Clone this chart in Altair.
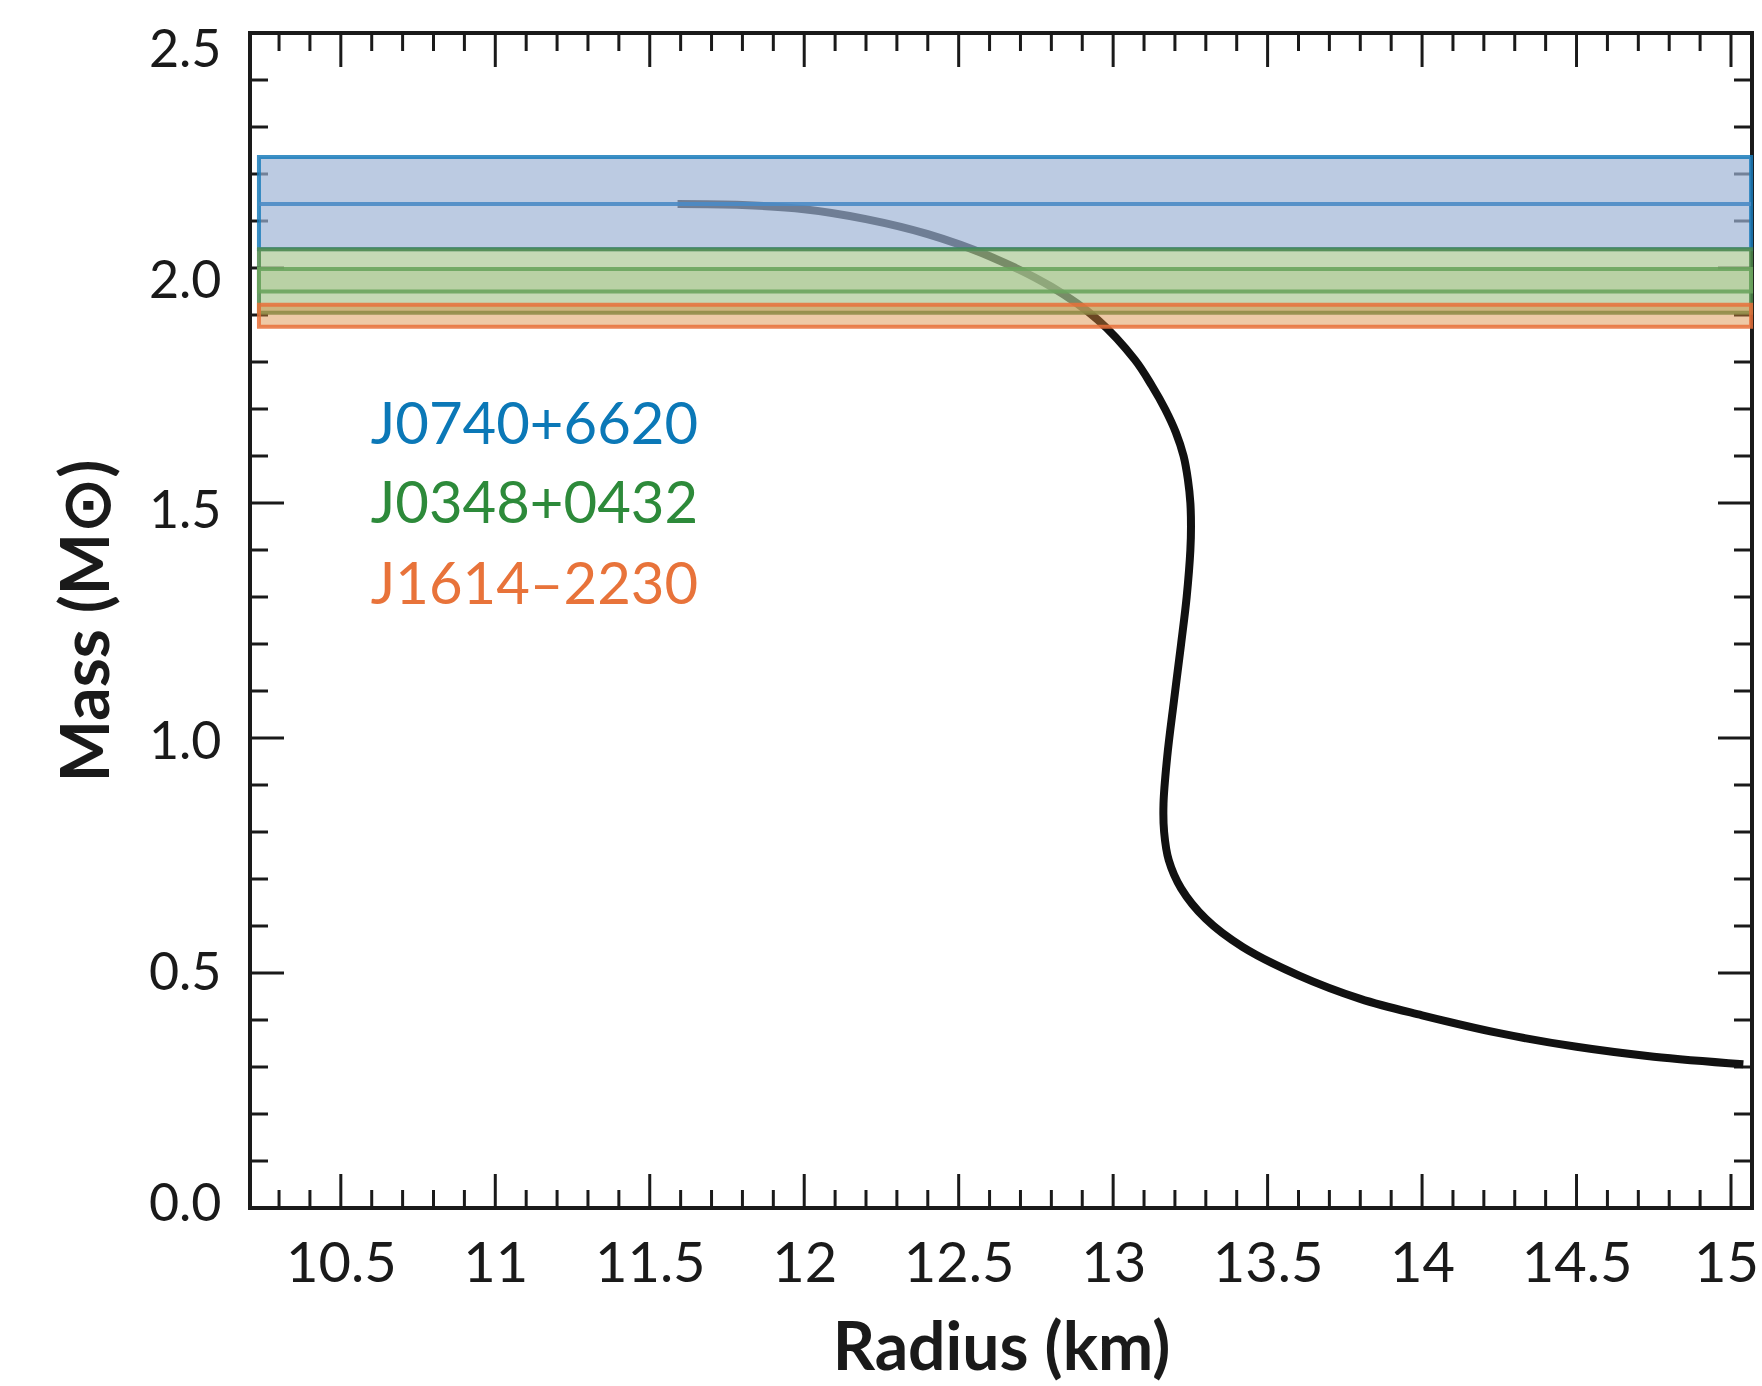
import altair as alt
import pandas as pd

# ---- mass-radius curve (km, solar masses) ----
radius_km = [11.59, 11.80, 12.00, 12.20, 12.40, 12.60, 12.80, 12.95, 13.07, 13.125,
             13.168, 13.203, 13.228, 13.242, 13.25, 13.252, 13.25, 13.238, 13.22, 13.197,
             13.175, 13.163, 13.165, 13.18, 13.22, 13.30, 13.42, 13.60, 13.80, 14.00,
             14.25, 14.50, 14.75, 15.04]
mass_msun = [2.136, 2.134, 2.125, 2.104, 2.072, 2.025, 1.960, 1.890, 1.805, 1.750,
             1.700, 1.650, 1.600, 1.550, 1.500, 1.450, 1.400, 1.300, 1.200, 1.080,
             0.960, 0.860, 0.800, 0.740, 0.680, 0.615, 0.555, 0.495, 0.445, 0.410,
             0.372, 0.343, 0.322, 0.306]

# ---- pulsar mass bands ----
pulsars = ["J0740+6620", "J0348+0432", "J1614–2230"]
band_lo = [2.040, 1.905, 1.875]
band_hi = [2.236, 2.040, 1.922]
band_r_lo = [10.235, 10.235, 10.235]
band_r_hi = [15.065, 15.065, 15.065]

inner_lo = [1.950]      # J0348+0432 inner band
inner_hi = [1.998]
center_mass = [2.136]   # J0740+6620 central value

label_r = [10.597, 10.597, 10.597]
label_m = [1.662, 1.493, 1.322]

# ---- ticks ----
x_major = [10.5, 11, 11.5, 12, 12.5, 13, 13.5, 14, 14.5, 15]
x_minor = [round(10.3 + 0.1 * i, 1) for i in range(48)]
x_minor = [v for v in x_minor if all(abs(v - m) > 1e-6 for m in x_major)]
y_major = [0.0, 0.5, 1.0, 1.5, 2.0, 2.5]
y_minor = [round(0.1 * i, 1) for i in range(1, 25)]
y_minor = [v for v in y_minor if all(abs(v - m) > 1e-6 for m in y_major)]

W, H = 1502, 1175
FONT = "Lato"
INK = "#1a1a1a"

xs = alt.Scale(domain=[10.206, 15.068], nice=False, zero=False)
ys = alt.Scale(domain=[0, 2.5], nice=False, zero=False)

x_axis = alt.Axis(values=x_major, labelExpr="'' + datum.value", ticks=False, tickSize=0,
                  domain=False, grid=False, labelFont=FONT, labelFontSize=56, labelColor=INK,
                  labelPadding=73, labelBaseline="alphabetic", labelFlush=False,
                  labelOffset={"expr": "datum.value >= 15 ? -5 : 0"},
                  labelOverlap=False, title="Radius (km)", titleFont=FONT, titleFontSize=66,
                  titleFontWeight="bold", titleColor=INK, titleY=161,
                  titleBaseline="alphabetic", titleAnchor="middle")
y_axis = alt.Axis(values=y_major, format=".1f", ticks=False, tickSize=0, domain=False,
                  grid=False, labelFont=FONT, labelFontSize=52, labelColor=INK,
                  labelPadding=29, labelAlign="right", labelBaseline="middle",
                  labelOffset={"expr": "-4 + 8.5 * datum.value"},
                  labelOverlap=False, labelFlush=False,
                  title="Mass (M⊙)", titleFont=FONT, titleFontSize=66,
                  titleFontWeight="bold", titleColor=INK, titleAngle=270, titleX=-142,
                  titleY=H / 2, titleBaseline="alphabetic", titleAlign="center")


def X(field):
    return alt.X(f"{field}:Q", scale=xs, axis=x_axis)


def Y(field):
    return alt.Y(f"{field}:Q", scale=ys, axis=y_axis)


layers = []

# inward ticks on all four sides
tick_style = dict(color=INK, strokeWidth=3)
for vals, L in [(x_major, 34), (x_minor, 18)]:
    d = pd.DataFrame({"v": vals})
    layers.append(alt.Chart(d).mark_rule(**tick_style).encode(
        x=X("v"), y=alt.value(H), y2=alt.value(H - L)))
    layers.append(alt.Chart(d).mark_rule(**tick_style).encode(
        x=X("v"), y=alt.value(0), y2=alt.value(L)))
for vals, L in [(y_major, 34), (y_minor, 18)]:
    d = pd.DataFrame({"v": vals})
    layers.append(alt.Chart(d).mark_rule(**tick_style).encode(
        y=Y("v"), x=alt.value(0), x2=alt.value(L)))
    layers.append(alt.Chart(d).mark_rule(**tick_style).encode(
        y=Y("v"), x=alt.value(W), x2=alt.value(W - L)))

# curve
curve_df = pd.DataFrame({"r": radius_km, "m": mass_msun, "idx": list(range(len(radius_km)))})
layers.append(alt.Chart(curve_df).mark_line(color="#111111", strokeWidth=8, strokeCap="butt",
                                            strokeJoin="round",
                                            interpolate="catmull-rom").encode(
    x=X("r"), y=Y("m"), order="idx:Q"))

# bands
band_df = pd.DataFrame({"pulsar": pulsars, "lo": band_lo, "hi": band_hi,
                        "r0": band_r_lo, "r1": band_r_hi})
fills = ["#9cb3d4", "#aac792", "#d9873a"]
strokes = ["#1a7dbb", "#4f8a4c", "#e8703a"]
opac = [0.68, 0.68, 0.45]
for i, p in enumerate(pulsars):
    sub = band_df[band_df["pulsar"] == p]
    layers.append(alt.Chart(sub).mark_rect(fill=fills[i], fillOpacity=opac[i], stroke=strokes[i],
                                           strokeWidth=4, strokeOpacity=0.85).encode(
        x=X("r0"), x2="r1", y=Y("lo"), y2="hi"))
    if i == 1:
        inner_df = pd.DataFrame({"lo": inner_lo, "hi": inner_hi,
                                 "r0": band_r_lo[:1], "r1": band_r_hi[:1]})
        layers.append(alt.Chart(inner_df).mark_rect(fill=fills[1], fillOpacity=0.45,
                                                    stroke="#6aa45e", strokeWidth=4,
                                                    strokeOpacity=0.9).encode(
            x=X("r0"), x2="r1", y=Y("lo"), y2="hi"))

center_df = pd.DataFrame({"m": center_mass, "r0": band_r_lo[:1], "r1": band_r_hi[:1]})
layers.append(alt.Chart(center_df).mark_rule(color="#4a8bc5", strokeWidth=4, opacity=0.9).encode(
    x=X("r0"), x2="r1", y=Y("m")))

# labels
label_df = pd.DataFrame({"pulsar": pulsars, "r": label_r, "m": label_m})
layers.append(alt.Chart(label_df).mark_text(align="left", baseline="middle", font=FONT,
                                            fontSize=58).encode(
    x=X("r"), y=Y("m"), text="pulsar:N",
    color=alt.Color("pulsar:N", scale=alt.Scale(domain=pulsars,
                                                range=["#0b78b7", "#2d8a3a", "#e8733a"]),
                    legend=None)))

chart = alt.layer(*layers).properties(
    width=W, height=H,
    autosize=alt.AutoSizeParams(type="none"),
    padding={"left": 250, "top": 33, "right": 10, "bottom": 178},
    background="white",
).configure_view(stroke=INK, strokeWidth=4)

chart.save("out.html", embed_options={"renderer": "svg", "actions": False})
